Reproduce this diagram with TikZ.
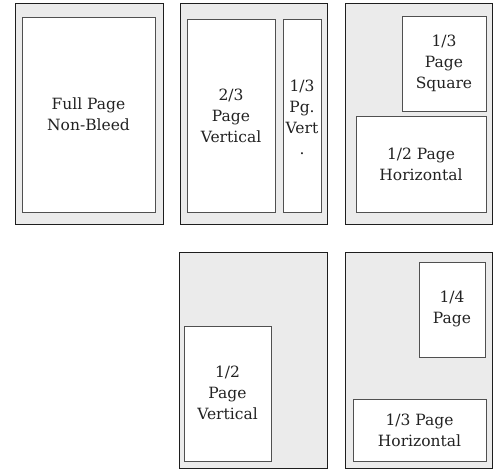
\documentclass[tikz,border=0pt]{standalone}
\usepackage{fontspec}
\setmainfont{DejaVu Serif}
\definecolor{pagefill}{HTML}{EBEBEB}
\definecolor{pageline}{HTML}{1E1E1E}
\definecolor{adline}{HTML}{505050}
\definecolor{adtext}{HTML}{222222}
\begin{document}
\begin{tikzpicture}[x=1pt,y=-1pt,
  pagebox/.style={draw=pageline,fill=pagefill,line width=0.9pt},
  adbox/.style={draw=adline,fill=white,line width=1pt},
  adlabel/.style={align=center,font=\fontsize{15.5}{21}\selectfont,text=adtext,inner sep=0pt}]
\useasboundingbox (0,0) rectangle (493,471);
% pages
\draw[pagebox] (15,3) rectangle (163,224);
\draw[pagebox] (180,3) rectangle (327,224);
\draw[pagebox] (345,3) rectangle (492,224);
\draw[pagebox] (179,252) rectangle (327,468);
\draw[pagebox] (345,252) rectangle (492,468);
% ads
\draw[adbox] (22,17) rectangle (155,212) node[adlabel] (full) at (88.5,114) {Full Page\\Non-Bleed};
\draw[adbox] (187,19) rectangle (275,212) node[adlabel] (twothird) at (231,116) {2/3\\Page\\Vertical};
\draw[adbox] (283,19) rectangle (321,212) node[adlabel] (onethird) at (302,117) {1/3\\Pg.\\Vert\\.};
\draw[adbox] (402,16) rectangle (486,111) node[adlabel] (square) at (444,63) {1/3\\Page\\Square};
\draw[adbox] (356,116) rectangle (486,212) node[adlabel] (halfh) at (421,164) {1/2 Page\\Horizontal};
\draw[adbox] (184,326) rectangle (271,461) node[adlabel] (halfv) at (227.5,393) {1/2\\Page\\Vertical};
\draw[adbox] (419,262) rectangle (485,357) node[adlabel] (quarter) at (452,309) {1/4\\Page};
\draw[adbox] (353,399) rectangle (486,461) node[adlabel] (thirdh) at (419.5,430) {1/3 Page\\Horizontal};
\end{tikzpicture}
\end{document}
